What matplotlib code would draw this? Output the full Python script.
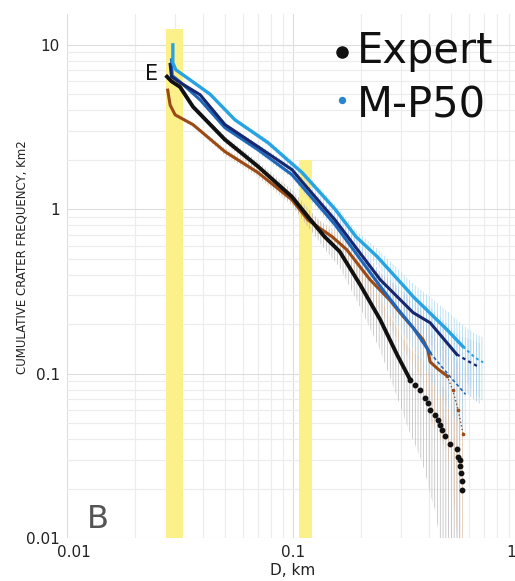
import numpy as np
import matplotlib.pyplot as plt
from matplotlib.transforms import ScaledTranslation

# cumulative crater frequency curves
d_expert = [0.0277, 0.0290, 0.0316, 0.0361, 0.050, 0.070, 0.099, 0.1165, 0.138, 0.161,
            0.198, 0.243, 0.289, 0.330]
n_expert = [6.4, 6.0, 5.55, 4.2, 2.65, 1.82, 1.19, 0.90, 0.68, 0.552,
            0.348, 0.213, 0.130, 0.0917]
err_expert = [0.03, 0.03, 0.03, 0.03, 0.05, 0.07, 0.10, 0.13, 0.16, 0.20,
              0.27, 0.35, 0.45, 0.53]
# tail of the expert count, shown as single dots
d_expert_tail = [0.330, 0.345, 0.363, 0.382, 0.394, 0.404, 0.426, 0.4375, 0.447, 0.457,
                 0.471, 0.495, 0.532, 0.537, 0.547, 0.547, 0.552, 0.558, 0.558]
n_expert_tail = [0.0917, 0.0852, 0.0792, 0.0714, 0.0660, 0.0600, 0.0564, 0.0524, 0.0487, 0.0452,
                 0.0420, 0.0372, 0.0346, 0.0312, 0.0300, 0.0273, 0.0250, 0.0221, 0.0197]
err_expert_tail = [0.53, 0.56, 0.6, 0.64, 0.67, 0.69, 0.74, 0.78, 0.82, 0.86,
                   0.9, 0.95, 1.0, 1.0, 1.0, 1.0, 1.0, 1.0, 1.0]

d_brown = [0.0279, 0.0286, 0.0301, 0.0361, 0.050, 0.070, 0.099, 0.1165, 0.149, 0.173,
           0.219, 0.268, 0.297, 0.340, 0.376, 0.395, 0.404, 0.440, 0.48, 0.508,
           0.538, 0.565]
n_brown = [5.3, 4.3, 3.75, 3.27, 2.24, 1.67, 1.14, 0.86, 0.68, 0.567,
           0.373, 0.28, 0.235, 0.19, 0.161, 0.14, 0.118, 0.106, 0.097, 0.080,
           0.060, 0.0432]
err_brown = [0.03, 0.03, 0.03, 0.03, 0.05, 0.06, 0.08, 0.10, 0.13, 0.16,
             0.22, 0.3, 0.35, 0.4, 0.45, 0.5, 0.55, 0.6, 0.65, 0.75,
             0.85, 1.0]

d_light = [0.0294, 0.0294, 0.0303, 0.035, 0.043, 0.0553, 0.0775, 0.1097, 0.1535, 0.19,
           0.236, 0.319, 0.34, 0.48, 0.565, 0.639, 0.694]
n_light = [10.0, 7.77, 7.05, 6.13, 5.0, 3.5, 2.54, 1.67, 1.0, 0.68,
           0.514, 0.325, 0.294, 0.185, 0.146, 0.125, 0.117]
err_light = [0.02, 0.02, 0.02, 0.02, 0.03, 0.03, 0.04, 0.05, 0.07, 0.09,
             0.12, 0.18, 0.2, 0.3, 0.35, 0.4, 0.42]

d_navy = [0.0286, 0.0290, 0.0316, 0.0388, 0.050, 0.070, 0.099, 0.1097, 0.1535, 0.243,
          0.34, 0.404, 0.48, 0.53, 0.609, 0.671]
n_navy = [7.6, 6.4, 5.9, 4.97, 3.27, 2.40, 1.74, 1.47, 0.86, 0.373,
          0.235, 0.204, 0.154, 0.131, 0.117, 0.109]
err_navy = [0.02, 0.02, 0.02, 0.03, 0.03, 0.04, 0.05, 0.06, 0.08, 0.12,
            0.2, 0.25, 0.3, 0.33, 0.38, 0.4]

d_mid = [0.0290, 0.0292, 0.0316, 0.0388, 0.050, 0.070, 0.099, 0.1535, 0.243, 0.289,
         0.34, 0.404, 0.495, 0.58]
n_mid = [8.1, 6.5, 5.96, 4.63, 3.13, 2.3, 1.62, 0.805, 0.34, 0.25,
         0.19, 0.134, 0.096, 0.0748]
err_mid = [0.02, 0.02, 0.02, 0.03, 0.03, 0.04, 0.05, 0.08, 0.15, 0.2,
           0.25, 0.3, 0.38, 0.45]

# highlighted diameter ranges (yellow bars)
band_lo = [0.0274, 0.106]
band_hi = [0.0326, 0.121]
band_top = [12.5, 2.0]

plt.rcParams['hatch.linewidth'] = 0.5

fig = plt.figure(figsize=(5.15, 5.81), dpi=100)
ax = fig.add_axes([0.1301, 0.0740, 0.8777, 0.9019])
ax.set_xscale('log')
ax.set_yscale('log')
ax.set_xlim(0.01, 1)
ax.set_ylim(0.01, 15.4)

for x0, x1, top in zip(band_lo, band_hi, band_top):
    ax.fill_between([x0, x1], 0.01, top, color='#fcf08a', lw=0, zorder=1)


def err_band(d, n, r, color):
    d = np.array(d)
    n = np.array(n)
    r = np.array(r)
    lo = np.clip(n * (1 - r), 1e-3, None)
    hi = n * (1 + r)
    ax.fill_between(d, lo, hi, facecolor='none', edgecolor=color, hatch='||||||',
                    lw=0, zorder=2)


err_band(d_expert + d_expert_tail, n_expert + n_expert_tail,
         err_expert + err_expert_tail, '#b8b8b8')
err_band(d_brown, n_brown, err_brown, '#dcbfa4')
err_band(d_mid, n_mid, err_mid, '#a9d2f0')
err_band(d_navy, n_navy, err_navy, '#a9c0e0')
err_band(d_light, n_light, err_light, '#a5d8f5')

ax.plot(d_brown[:-3], n_brown[:-3], color='#9a4a16', lw=2.2, zorder=4)
ax.plot(d_brown[-4:], n_brown[-4:], color='#9a4a16', lw=1.0, ls=':',
        marker='o', ms=1.6, zorder=4)
ax.plot(d_expert, n_expert, color='#111111', lw=2.8, zorder=5)
ax.plot(d_expert_tail, n_expert_tail, 'o', color='#111111', ms=3.2, zorder=5)
ax.plot(d_mid[:-2], n_mid[:-2], color='#1f66b8', lw=2.2, zorder=6)
ax.plot(d_mid[-3:], n_mid[-3:], color='#1f66b8', lw=1.2, ls=(0, (2, 1.5)), zorder=6)
ax.plot(d_navy[:-2], n_navy[:-2], color='#17276e', lw=2.2, zorder=7)
ax.plot(d_navy[-3:], n_navy[-3:], color='#17276e', lw=1.6, ls=(0, (1.5, 1.5)), zorder=7)
ax.plot(d_light[:-2], n_light[:-2], color='#27a2e2', lw=2.4, zorder=8)
ax.plot(d_light[-3:], n_light[-3:], color='#27a2e2', lw=1.4, ls=(0, (1.5, 1.5)), zorder=8)

ax.grid(True, which='major', color='#dddddd', lw=0.8, zorder=0)
ax.grid(True, which='minor', color='#ececec', lw=0.8, zorder=0)
ax.set_axisbelow(True)
for s in ax.spines.values():
    s.set_visible(False)

ax.set_xticks([0.01, 0.1, 1])
ax.set_xticklabels(['0.01', '0.1', '1'])
ax.set_yticks([0.01, 0.1, 1, 10])
ax.set_yticklabels(['0.01', '0.1', '1', '10'])
ax.tick_params(which='both', length=0, labelsize=11, colors='#222222', pad=5)
ax.set_xlabel('D, km', fontsize=11, color='#222222', labelpad=2)

# nudge the end labels as in the original
xlabels = ax.get_xticklabels()
xlabels[0].set_transform(xlabels[0].get_transform() + ScaledTranslation(0.07, 0, fig.dpi_scale_trans))
xlabels[2].set_transform(xlabels[2].get_transform() + ScaledTranslation(-0.08, 0, fig.dpi_scale_trans))

fig.text(0.043, 0.558, 'CUMULATIVE CRATER FREQUENCY, Km2', rotation=90,
         ha='center', va='center', fontsize=8.5, color='#222222')

fig.text(0.2816, 0.8623, 'E', fontsize=15, color='#111111')
fig.text(0.169, 0.0912, 'B', fontsize=23, color='#555555')

# legend drawn by hand, as in the original
ax.plot([342 / 515], [1 - 52 / 581], 'o', color='#111111', ms=8,
        transform=fig.transFigure, clip_on=False)
ax.plot([342 / 515], [1 - 100 / 581], 'o', color='#2a85d0', ms=4.3,
        transform=fig.transFigure, clip_on=False)
fig.text(0.693, 0.8916, 'Expert', fontsize=30, color='#111111', va='baseline')
fig.text(0.693, 0.7986, 'M-P50', fontsize=30, color='#111111', va='baseline')

fig.savefig('out.png', dpi=100)
